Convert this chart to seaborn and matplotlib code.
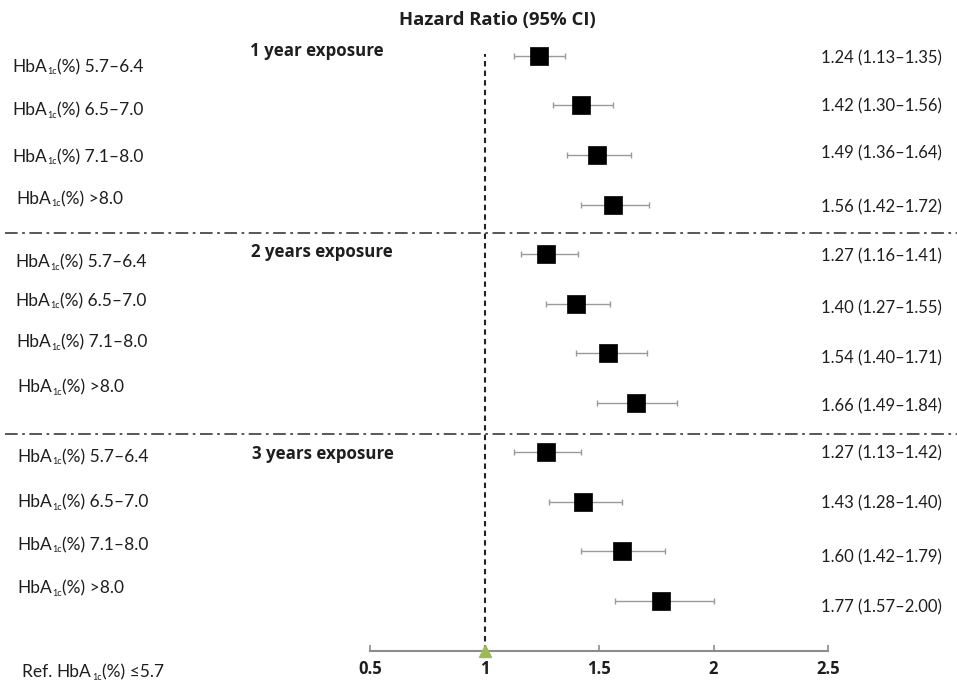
import matplotlib
matplotlib.use("Agg")
import matplotlib.pyplot as plt
import seaborn as sns
import pandas as pd
import numpy as np

# ---------------- data ----------------
groups = ["1 year exposure", "2 years exposure", "3 years exposure"]
categories = ["5.7–6.4", "6.5–7.0", "7.1–8.0", ">8.0"]

hr_1y = [1.24, 1.42, 1.49, 1.56]
lo_1y = [1.13, 1.30, 1.36, 1.42]
hi_1y = [1.35, 1.56, 1.64, 1.72]

hr_2y = [1.27, 1.40, 1.54, 1.66]
lo_2y = [1.16, 1.27, 1.40, 1.49]
hi_2y = [1.41, 1.55, 1.71, 1.84]

hr_3y = [1.27, 1.43, 1.60, 1.77]
lo_3y = [1.13, 1.28, 1.42, 1.57]
hi_3y = [1.42, 1.60, 1.79, 2.00]

ci_labels = [
    "1.24 (1.13–1.35)", "1.42 (1.30–1.56)", "1.49 (1.36–1.64)", "1.56 (1.42–1.72)",
    "1.27 (1.16–1.41)", "1.40 (1.27–1.55)", "1.54 (1.40–1.71)", "1.66 (1.49–1.84)",
    "1.27 (1.13–1.42)", "1.43 (1.28–1.40)", "1.60 (1.42–1.79)", "1.77 (1.57–2.00)",
]
x_ticks = [0.5, 1, 1.5, 2, 2.5]
x_tick_labels = ["0.5", "1", "1.5", "2", "2.5"]
ref_value = 1
title = "Hazard Ratio (95% CI)"
label_stem = "HbA"
label_sub = "1c"
label_unit = "(%)"
ref_prefix = "Ref. "
ref_suffix = "≤5.7"

# ---------------- style ----------------
sns.set_theme(style="white")
plt.rcParams["font.family"] = ["Lato", "DejaVu Sans"]

TXT = "#1e1e1e"
W, H = 957, 692
FS = 12
FS_LEFT = 12.5
BOLD = dict(family=["Open Sans", "DejaVu Sans"], fontweight="bold")

hr = hr_1y + hr_2y + hr_3y
lo = lo_1y + lo_2y + lo_3y
hi = hi_1y + hi_2y + hi_3y
rows = list(range(12, 0, -1))
df = pd.DataFrame({"hr": hr, "lo": lo, "hi": hi, "row": rows})

fig = plt.figure(figsize=(W / 100, H / 100), dpi=100)
ax = fig.add_axes([0, 0, 1, 1])
renderer = fig.canvas.get_renderer()

PPU_X = 229.0
PPU_Y = 49.55
AX_Y = 650.5
ax.set_xlim(0.5 - 370 / PPU_X, 2.5 + (W - 828) / PPU_X)
ax.set_ylim(-(H - AX_Y) / PPU_Y, AX_Y / PPU_Y)

# error bars
ax.errorbar(df["hr"], df["row"],
            xerr=[df["hr"] - df["lo"], df["hi"] - df["hr"]],
            fmt="none", ecolor="#9a9a9a", elinewidth=1.0, capsize=2.3,
            capthick=1.0, zorder=2)
# squares
sns.scatterplot(data=df, x="hr", y="row", marker="s", s=170, color="black",
                edgecolor="black", linewidth=0.5, legend=False, ax=ax, zorder=3)

# reference dashed line
ax.plot([ref_value, ref_value], [0, 12.03], color="#222222", lw=1.5,
        linestyle=(0, (2.6, 2.0)), zorder=1)
# group separators
for ysep in (8.43, 4.37):
    ax.axhline(ysep, xmin=0.005, xmax=1, color="#4a4a4a", lw=1.3,
               linestyle=(0, (7, 2.5, 1.5, 2.5)), zorder=1)

# reference triangle
ax.plot([ref_value], [0], marker="^", markersize=9, color="#9bbb59",
        markeredgecolor="#9bbb59", zorder=5, clip_on=False)

# axis
for s in ["top", "left", "right"]:
    ax.spines[s].set_visible(False)
ax.spines["bottom"].set_position(("data", 0))
ax.spines["bottom"].set_bounds(0.5, 2.5)
ax.spines["bottom"].set_color("#8c8c8c")
ax.spines["bottom"].set_linewidth(1.5)
ax.set_xticks(x_ticks)
ax.set_xticklabels(x_tick_labels, fontsize=12, color=TXT, **BOLD)
ax.tick_params(axis="x", direction="in", length=4, width=1.2, color="#8c8c8c",
               pad=7, bottom=True)
ax.set_yticks([])
ax.set_xlabel("")
ax.set_ylabel("")
ax.set_facecolor("white")


def ftext(px, py, s, **kw):
    return fig.text(px / W, 1 - py / H, s, color=TXT, va="baseline", **kw)


def hba_text(px, py, prefix, suffix):
    """Draw prefix + HbA + small subscript 1c + (%) + suffix at pixel pos."""
    x = px
    if prefix:
        t = ftext(x, py, prefix, ha="left", fontsize=FS_LEFT)
        x = t.get_window_extent(renderer).x1
    t = ftext(x, py, label_stem, ha="left", fontsize=FS_LEFT)
    x = t.get_window_extent(renderer).x1 + 0.5
    t = ftext(x, py + 2.5, label_sub, ha="left", fontsize=6.5)
    x = t.get_window_extent(renderer).x1 + 0.5
    ftext(x, py, label_unit + " " + suffix, ha="left", fontsize=FS_LEFT)


# title
ftext(497, 25, title, ha="center", fontsize=13.3, **BOLD)

# group labels
for g, (gx, gy) in zip(groups, [(250, 56), (251, 257), (252, 459)]):
    ftext(gx, gy, g, ha="left", fontsize=12.2, **BOLD)

# left row labels
left_x = [12, 12, 12, 16, 15, 15, 16, 17, 17, 17, 17, 17]
left_y = [72, 115, 162, 204, 267, 306, 347, 392, 462, 507, 550, 593]
row_cats = [c for _ in groups for c in categories]
for c, px, py in zip(row_cats, left_x, left_y):
    hba_text(px, py, "", c)

# right CI labels
right_y = [63, 111, 158, 212, 261, 313, 363, 411, 458, 508, 562, 612]
for s, py in zip(ci_labels, right_y):
    ftext(942, py, s, ha="right", fontsize=FS)

# reference label
hba_text(22, 677, ref_prefix, ref_suffix)

fig.savefig("out.png", dpi=100, facecolor="white")
